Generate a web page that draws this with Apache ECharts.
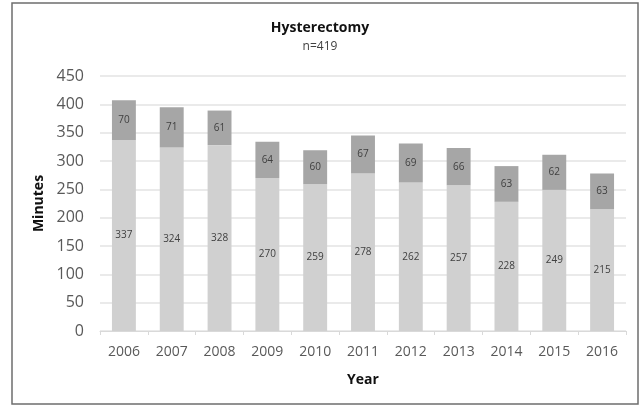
<!DOCTYPE html>
<html>
<head>
<meta charset="utf-8">
<script src="https://cdn.jsdelivr.net/npm/echarts@6/dist/echarts.min.js"></script>
<style>
  html, body { margin: 0; padding: 0; background: #fff; }
  #chart { width: 640px; height: 408px; }
</style>
</head>
<body>
<div id="chart"></div>
<script>
// Operating time per year, split into two stacked components
const years = ['2006', '2007', '2008', '2009', '2010', '2011', '2012', '2013', '2014', '2015', '2016'];
const baseMinutes = [337, 324, 328, 270, 259, 278, 262, 257, 228, 249, 215];
const extraMinutes = [70, 71, 61, 64, 60, 67, 69, 66, 63, 62, 63];
const yTicks = { min: 0, max: 450, step: 50 };

const FONT = '"Open Sans", "Noto Sans", sans-serif';
const chart = echarts.init(document.getElementById('chart'), null, { renderer: 'canvas' });

const segmentLabel = {
  show: true,
  position: 'inside',
  color: '#404040',
  fontFamily: FONT,
  fontSize: 10
};

chart.setOption({
  animation: false,
  backgroundColor: '#ffffff',
  title: {
    text: 'Hysterectomy',
    subtext: 'n=419',
    left: 'center',
    top: 16,
    itemGap: 6,
    textStyle: { fontFamily: FONT, fontSize: 14, fontWeight: 'bold', color: '#111' },
    subtextStyle: { fontFamily: FONT, fontSize: 12, color: '#404040' }
  },
  graphic: [{
    type: 'rect',
    shape: { x: 12, y: 3, width: 626, height: 401 },
    style: { fill: 'none', stroke: '#6e6e6e', lineWidth: 1.5 },
    silent: true
  }],
  grid: { left: 100, right: 14, top: 76, bottom: 77 },
  xAxis: {
    type: 'category',
    data: years,
    name: 'Year',
    nameLocation: 'middle',
    nameGap: 42,
    nameTextStyle: { fontFamily: FONT, fontSize: 14, fontWeight: 'bold', color: '#111' },
    axisLine: { lineStyle: { color: '#d9d9d9' } },
    axisTick: { show: true, alignWithLabel: false, length: 4, lineStyle: { color: '#d9d9d9' } },
    axisLabel: { fontFamily: FONT, fontSize: 14, color: '#595959', margin: 14 }
  },
  yAxis: {
    type: 'value',
    min: yTicks.min,
    max: yTicks.max,
    interval: yTicks.step,
    name: 'Minutes',
    nameLocation: 'middle',
    nameGap: 51,
    nameTextStyle: { fontFamily: FONT, fontSize: 14, fontWeight: 'bold', color: '#111' },
    axisLine: { show: false },
    axisTick: { show: false },
    axisLabel: { fontFamily: FONT, fontSize: 16, color: '#595959', margin: 16 },
    splitLine: { lineStyle: { color: '#e3e3e3', width: 1.5 } }
  },
  series: [
    {
      type: 'bar',
      stack: 'total',
      data: baseMinutes,
      barWidth: '50%',
      itemStyle: { color: '#d0d0d0' },
      label: segmentLabel
    },
    {
      type: 'bar',
      stack: 'total',
      data: extraMinutes,
      barWidth: '50%',
      itemStyle: { color: '#a6a6a6' },
      label: segmentLabel
    }
  ]
});
</script>
</body>
</html>
